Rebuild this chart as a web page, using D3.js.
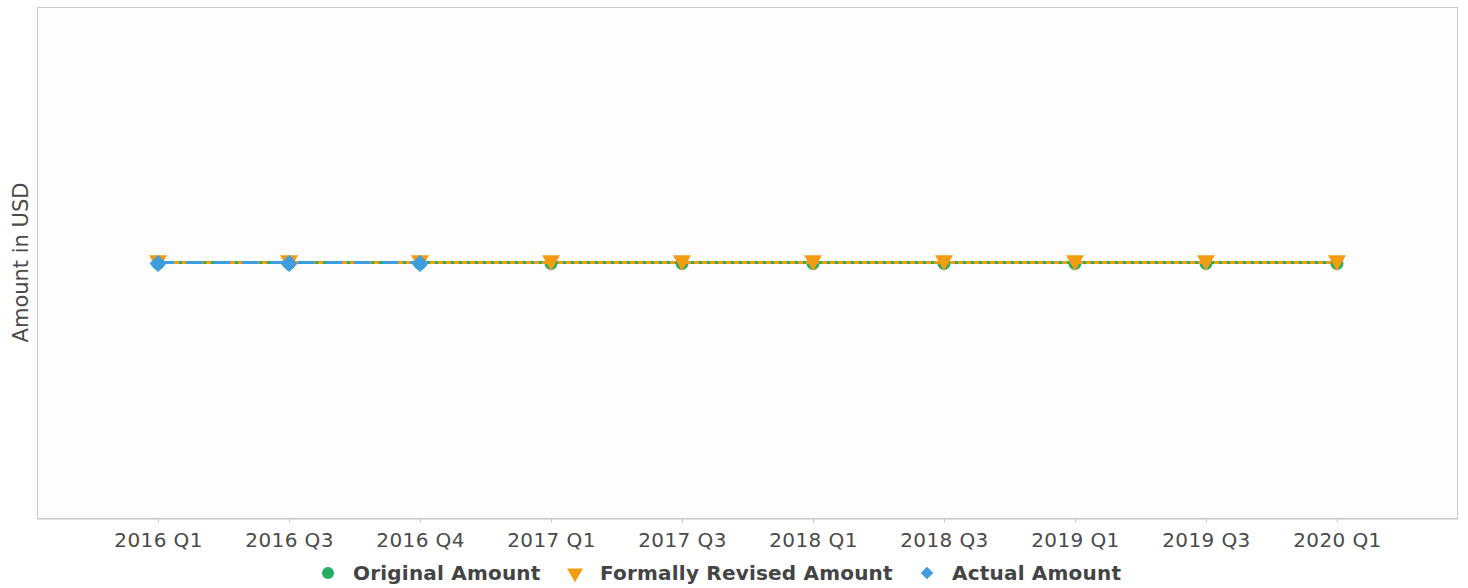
<!DOCTYPE html>
<html><head><meta charset="utf-8">
<script src="https://cdn.jsdelivr.net/npm/d3@7"></script>
<style>body{margin:0;background:#fff;}svg{display:block;font-family:"DejaVu Sans",sans-serif;}</style>
</head><body>
<svg id="c" width="1468" height="588"></svg>
<script>
const categories = ["2016 Q1","2016 Q3","2016 Q4","2017 Q1","2017 Q3","2018 Q1","2018 Q3","2019 Q1","2019 Q3","2020 Q1"];
const originalAmount = [0,0,0,0,0,0,0,0,0,0];
const revisedAmount = [0,0,0,0,0,0,0,0,0,0];
const actualAmount = [0,0,0];
const seriesNames = ["Original Amount","Formally Revised Amount","Actual Amount"];
const colors = ["#27ae60","#f39c12","#3e9ddf"];

const svg = d3.select("#c");
const L = 37, R = 1458, T = 7, B = 518;
const x = d3.scalePoint().domain(categories).range([L, R]).padding(0.924);
const y = d3.scaleLinear().domain([-1, 1]).range([B, T]);

svg.append("rect").attr("x", L + 0.5).attr("y", T + 0.5).attr("width", R - L - 1).attr("height", B - T)
  .attr("fill", "#fdfdfd").attr("stroke", "#c8c8c8").attr("stroke-width", 1);

const xa = svg.append("g").attr("transform", `translate(0,${B + 0.5})`)
  .call(d3.axisBottom(x).tickSizeInner(4).tickSizeOuter(0).tickPadding(10));
xa.select(".domain").attr("stroke", "#c8c8c8");
xa.selectAll(".tick line").attr("stroke", "#c8c8c8");
xa.selectAll("text").attr("font-size", 20).attr("fill", "#4a4a4a").attr("font-family", "DejaVu Sans").attr("letter-spacing", "0.4px");

svg.append("text").attr("transform", `translate(28,${(T + B) / 2}) rotate(-90)`)
  .attr("text-anchor", "middle").attr("font-size", 21).attr("fill", "#4a4a4a").text("Amount in USD");

const line = d3.line().x((d, i) => x(categories[i])).y(d => y(d));

// Original
svg.append("path").datum(originalAmount).attr("d", line).attr("fill", "none")
  .attr("stroke", colors[0]).attr("stroke-width", 3);
svg.selectAll(".o").data(originalAmount).join("circle")
  .attr("cx", (d, i) => x(categories[i])).attr("cy", d => y(d) + 1).attr("r", 6.5).attr("fill", colors[0]);

// Revised
svg.append("path").datum(revisedAmount).attr("d", line).attr("fill", "none")
  .attr("stroke", colors[1]).attr("stroke-width", 3).attr("stroke-dasharray", "5,3");
const tri = d3.symbol().type(d3.symbolTriangle).size(140);
svg.selectAll(".r").data(revisedAmount).join("path")
  .attr("d", tri).attr("fill", colors[1])
  .attr("transform", (d, i) => `translate(${x(categories[i])},${y(d) - 2}) rotate(180)`);

// Actual
svg.append("path").datum(actualAmount).attr("d", line).attr("fill", "none")
  .attr("stroke", colors[2]).attr("stroke-width", 3).attr("stroke-dasharray", "16,12");
const dia = d3.symbol().type(d3.symbolDiamond2).size(165);
svg.selectAll(".a").data(actualAmount).join("path")
  .attr("d", dia).attr("fill", colors[2]).attr("stroke", colors[2]).attr("stroke-width", 1).attr("stroke-linejoin", "round")
  .attr("transform", (d, i) => `translate(${x(categories[i])},${y(d) + 1})`);

// Legend
const legendX = [328, 575, 927];
const lg = svg.append("g");
seriesNames.forEach((n, i) => {
  const cx = legendX[i], cy = 573;
  if (i === 0) lg.append("circle").attr("cx", cx).attr("cy", cy).attr("r", 6).attr("fill", colors[0]);
  if (i === 1) lg.append("path").attr("d", d3.symbol().type(d3.symbolTriangle).size(110)).attr("fill", colors[1])
    .attr("transform", `translate(${cx},${cy}) rotate(180)`);
  if (i === 2) lg.append("path").attr("d", d3.symbol().type(d3.symbolDiamond2).size(100)).attr("fill", colors[2])
    .attr("transform", `translate(${cx},${cy})`);
  lg.append("text").attr("x", cx + 25).attr("y", cy).attr("dy", "0.35em")
    .attr("font-size", 20).attr("font-weight", "bold").attr("fill", "#444").attr("letter-spacing", "0.2px").text(n);
});
</script>
</body></html>
